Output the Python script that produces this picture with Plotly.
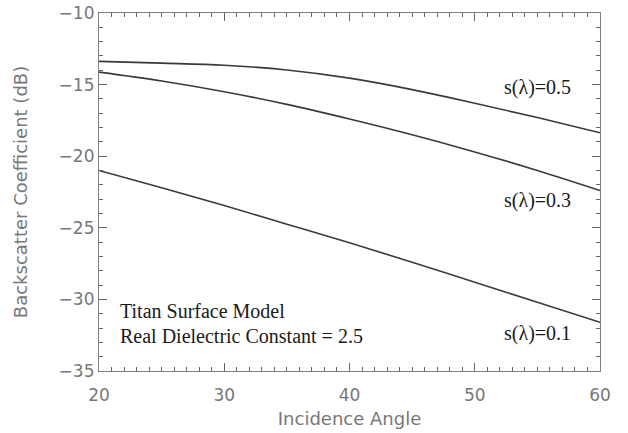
import plotly.graph_objects as go

angles = [20, 25, 30, 35, 40, 45, 50, 55, 60]
s05 = [-13.38, -13.50, -13.65, -13.98, -14.55, -15.35, -16.30, -17.30, -18.36]
s03 = [-14.13, -14.75, -15.50, -16.38, -17.40, -18.50, -19.70, -21.00, -22.40]
s01 = [-21.00, -22.20, -23.45, -24.75, -26.05, -27.40, -28.80, -30.20, -31.60]

labels = ["s(λ)=0.5", "s(λ)=0.3", "s(λ)=0.1"]
label_pos = [(55, -15.2), (55, -23.1), (55, -32.4)]

x_ticks = [20, 30, 40, 50, 60]
y_ticks = [-35, -30, -25, -20, -15, -10]

line_col = "#3a3a3a"
axis_col = "#808080"
tick_col = "#666666"
sans = "DejaVu Sans, sans-serif"
tick_font = dict(family=sans, size=17, color="#777777")
title_font = dict(family=sans, size=18, color="#777777")
serif = dict(family="Liberation Serif, Times New Roman, serif", size=20, color="#1a1a1a")

fig = go.Figure()
for ys in (s05, s03, s01):
    fig.add_trace(go.Scatter(x=angles, y=ys, mode="lines",
                             line=dict(color=line_col, width=1.6, shape="spline"),
                             showlegend=False, hoverinfo="skip"))

for txt, (px, py) in zip(labels, label_pos):
    fig.add_annotation(x=px, y=py, text=txt, showarrow=False, font=serif,
                       xanchor="center", yanchor="middle")

fig.add_annotation(x=21.5, y=-30.8, text="Titan Surface Model", showarrow=False,
                   font=serif, xanchor="left", yanchor="middle")
fig.add_annotation(x=21.5, y=-32.55, text="Real Dielectric Constant = 2.5", showarrow=False,
                   font=serif, xanchor="left", yanchor="middle")

clear = "rgba(0,0,0,0)"
minor_style = dict(dtick=1, ticks="inside", ticklen=4, tickcolor=tick_col, tickwidth=1.1,
                   showgrid=True, gridcolor=clear)

fig.update_xaxes(range=[20, 60], tickvals=x_ticks, showline=True, linecolor=axis_col, linewidth=1.2,
                 mirror="allticks", ticks="inside", ticklen=8, tickwidth=1.3, tickcolor=tick_col,
                 showgrid=True, gridcolor=clear, zeroline=False,
                 minor=minor_style, tickfont=tick_font, ticklabelstandoff=8,
                 title=dict(text="Incidence Angle", font=title_font, standoff=8))
fig.update_yaxes(range=[-35, -10], tickvals=y_ticks, showline=True, linecolor=axis_col, linewidth=1.2,
                 mirror="allticks", ticks="inside", ticklen=8, tickwidth=1.3, tickcolor=tick_col,
                 showgrid=True, gridcolor=clear, zeroline=False,
                 minor=minor_style, tickfont=tick_font,
                 title=dict(text="Backscatter Coefficient (dB)", font=title_font, standoff=26))

fig.update_layout(width=628, height=433, margin=dict(l=99, r=28, t=13, b=62, autoexpand=False),
                  plot_bgcolor="white", paper_bgcolor="white")

fig.write_html("out.html")
